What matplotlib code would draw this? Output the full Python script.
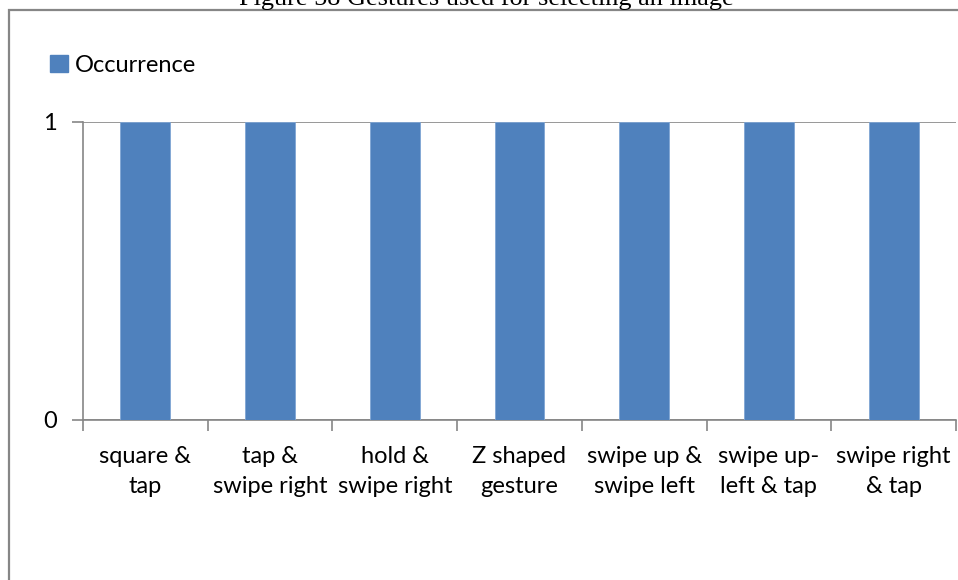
import matplotlib
matplotlib.use("Agg")
import matplotlib.pyplot as plt
from matplotlib.patches import Rectangle, Patch
import numpy as np

# Gestures and how often each was used
categories = [
    "square &\ntap",
    "tap &\nswipe right",
    "hold &\nswipe right",
    "Z shaped\ngesture",
    "swipe up &\nswipe left",
    "swipe up-\nleft & tap",
    "swipe right\n& tap",
]
occurrence = [1, 1, 1, 1, 1, 1, 1]
series_name = "Occurrence"
y_ticks = [0, 1]
title = "Figure 58 Gestures used for selecting an image"

W, H = 958, 580
BAR = "#4F81BD"
GRID = "#868686"
LABEL_FONT = ["Lato", "DejaVu Sans"]

fig = plt.figure(figsize=(W / 100, H / 100), dpi=100)
fig.patch.set_facecolor("white")

# outer chart frame
frame = Rectangle((9 / W, -0.2), 1.2, (H - 10) / H + 0.2, transform=fig.transFigure,
                  fill=False, edgecolor=GRID, linewidth=1.6, clip_on=False)
fig.patches.append(frame)

fig.text(486 / W, 1 - 5 / H, title, ha="center", va="baseline",
         family=["Liberation Serif", "DejaVu Serif"], fontsize=18.9, color="black")

left, right, top, bottom = 83, 956, 122, 420
ax = fig.add_axes([left / W, 1 - bottom / H, (right - left) / W, (bottom - top) / H])

x = np.arange(len(categories))
ax.bar(x, occurrence, width=0.4, color=BAR, edgecolor="#7FA5D4", linewidth=0.6, zorder=3)

ax.set_xlim(-0.5, len(categories) - 0.5)
ax.set_ylim(0, 1)
ax.set_yticks(y_ticks)
ax.set_yticklabels([str(v) for v in y_ticks], family=LABEL_FONT, fontsize=17)
ax.yaxis.grid(True, color=GRID, linewidth=1.2, zorder=0)

ax.set_xticks(x)
ax.set_xticklabels(categories, family=LABEL_FONT, fontsize=17, linespacing=1.5)
ax.set_xticks(np.arange(len(categories) + 1) - 0.5, minor=True)
ax.tick_params(axis="x", which="major", length=0, pad=19)
ax.tick_params(axis="x", which="minor", length=8, width=1.2, color=GRID, direction="out")
ax.tick_params(axis="y", length=8, width=1.2, color=GRID, direction="out", pad=11)

for side in ("top", "right"):
    ax.spines[side].set_visible(False)
for side in ("left", "bottom"):
    ax.spines[side].set_color(GRID)
    ax.spines[side].set_linewidth(1.2)

handle = Patch(facecolor=BAR, edgecolor=BAR)
fig.legend([handle], [series_name], loc="center left",
           bbox_to_anchor=(50 / W, 1 - 65 / H), frameon=False,
           prop={"family": LABEL_FONT, "size": 17},
           handlelength=0.75, handleheight=0.75, handletextpad=0.3,
           borderpad=0, borderaxespad=0)

fig.savefig("out.png", dpi=100, facecolor="white")
